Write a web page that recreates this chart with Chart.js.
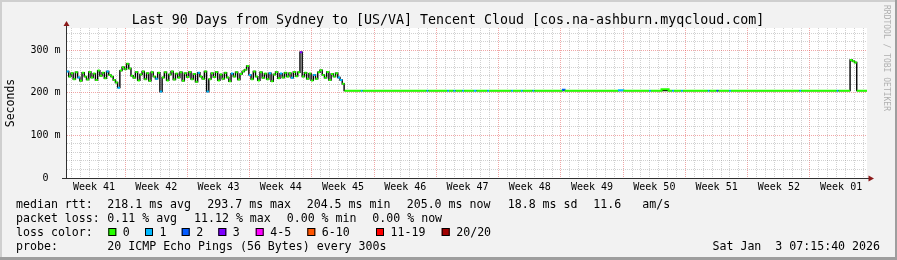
<!DOCTYPE html>
<html>
<head>
<meta charset="utf-8">
<script src="https://cdn.jsdelivr.net/npm/chart.js@4.4.1/dist/chart.umd.min.js"></script>
<style>
  html, body { margin: 0; padding: 0; background: #f2f2f2; }
  #wrap { position: relative; width: 897px; height: 260px; }
</style>
</head>
<body>
<div id="wrap"><canvas id="chart" width="897" height="260"></canvas></div>
<script>
// x values are days since the start of the 90 day window
const weekLabels = ['Week 41', 'Week 42', 'Week 43', 'Week 44', 'Week 45', 'Week 46', 'Week 47',
  'Week 48', 'Week 49', 'Week 50', 'Week 51', 'Week 52', 'Week 01'];
const firstDayLine = 0.59;   // first midnight after the window start
const firstWeekLine = 6;     // index of first day line that starts a week

const yTicks = [0, 20, 40, 60, 80, 100, 120, 140, 160, 180, 200, 220, 240, 260, 280, 300, 320, 340];
const yLabels = { 0: '0  ', 100: '100 m', 200: '200 m', 300: '300 m' };

// median rtt (ms), one sample every 6 hours for the first month
const sampleStep = 0.25;
const noisyRtt = [
  250, 238, 246, 232, 248, 236, 228, 247, 238, 231,
  249, 236, 245, 230, 252, 240, 247, 234, 250, 242,
  238, 230, 224, 212, 252, 260, 255, 268, 257, 240,
  235, 249, 229, 243, 250, 232, 246, 228, 248, 238,
  233, 247, 203, 236, 248, 229, 243, 250, 231, 245,
  236, 248, 228, 246, 237, 249, 232, 244, 226, 247,
  238, 233, 250, 203, 232, 246, 237, 249, 229, 243,
  233, 247, 236, 227, 245, 238, 248, 231, 244, 250,
  254, 263, 242, 232, 250, 238, 229, 248, 235, 245,
  232, 246, 227, 243, 249, 234, 245, 236, 247, 238,
  246, 235, 249, 239, 248, 295, 238, 247, 233, 245,
  229, 242, 233, 248, 253, 242, 235, 249, 230, 244,
  238, 246, 236, 230, 221
];
// samples with lost pings (index -> lost count), all others 0
const noisyLossAt = { 0: 1, 5: 1, 18: 1, 23: 1, 40: 1, 42: 1, 59: 1, 63: 1, 74: 1, 82: 1,
  91: 1, 96: 1, 101: 1, 105: 3, 111: 1, 122: 1, 123: 1 };

// flat part after the route change
const flatDays = [31.25, 33.1, 33.3, 40.5, 40.7, 42.8, 43.0, 43.5, 43.75, 44.5, 44.7, 45.8, 46.1,
  47.3, 47.5, 50.0, 50.2, 51.1, 51.3, 52.4, 52.6, 55.7, 56.0, 62.0, 62.6, 65.5, 65.7, 66.9, 67.7,
  68.1, 68.3, 69.1, 69.3, 72.1, 72.3, 73.1, 73.3, 74.5, 74.7, 82.4, 82.6, 86.6, 86.8, 88.1, 88.1,
  88.85, 90];
const flatRtt = [205, 205, 205, 205, 205, 205, 205, 205, 205, 205, 205, 205, 205,
  205, 205, 205, 205, 205, 205, 205, 205, 207, 205, 206, 205, 205, 205, 208, 205,
  205, 205, 205, 205, 205, 205, 205, 205, 205, 205, 205, 205, 205, 205, 205, null,
  205, 205];
const flatLoss = [0, 1, 0, 1, 0, 1, 0, 1, 0, 1, 0, 1, 0,
  1, 0, 1, 0, 1, 0, 1, 0, 2, 0, 1, 0, 1, 0, 0, 0,
  1, 0, 1, 0, 1, 0, 2, 0, 1, 0, 1, 0, 1, 0, 0, 0,
  0, 0];

const spikeDays = [88.22, 88.47, 88.72];
const spikeRtt = [277, 274, 271];

const lossColors = ['#26ff00', '#00b8ff', '#0059ff', '#7e00ff', '#ff00ff', '#ff5500', '#ff0000', '#a10000'];
const lossNames = ['0', '1', '2', '3', '4-5', '6-10', '11-19', '20/20'];

const MONO = '"DejaVu Sans Mono", monospace';

// build points
const noisyPts = noisyRtt.map((v, i) => ({ x: i * sampleStep + sampleStep / 2, y: v, loss: noisyLossAt[i] || 0 }));
const spikePts = spikeDays.map((d, i) => ({ x: d, y: spikeRtt[i], loss: 0 }));
const dashPts = noisyPts.concat(spikePts);
const flatPts = flatDays.map((d, i) => ({ x: d, y: flatRtt[i], loss: flatLoss[i] }));
const blackPts = noisyPts.concat([{ x: 31.3, y: 205 }, { x: 87.975, y: 205 }], spikePts,
  [{ x: 88.975, y: 205 }, { x: 90, y: 205 }]);

const xTicks = [];
for (let d = firstDayLine - 0.5; d <= 90; d += 0.5) xTicks.push(d);

function xTickInfo(i) {
  if (i % 2 === 1) {
    const n = (i - 1) / 2;
    return { line: true, major: (n - firstWeekLine) % 7 === 0 && n >= firstWeekLine };
  }
  const h = i / 2;
  if ((h - 3) % 7 === 0) return { label: weekLabels[(h - 3) / 7] };
  return {};
}

const frame = {
  id: 'frame',
  beforeDraw(chart) {
    const { ctx, chartArea: a } = chart;
    ctx.save();
    ctx.fillStyle = '#f2f2f2';
    ctx.fillRect(0, 0, 897, 260);
    ctx.fillStyle = '#cfcfcf';
    ctx.fillRect(0, 0, 897, 2);
    ctx.fillRect(0, 0, 2, 260);
    ctx.fillStyle = '#9e9e9e';
    ctx.fillRect(895, 0, 2, 260);
    ctx.fillRect(0, 257, 897, 3);
    ctx.fillStyle = '#ffffff';
    ctx.fillRect(a.left, a.top, a.right - a.left, a.bottom - a.top);
    ctx.restore();
  },
  afterDraw(chart) {
    const { ctx, chartArea: a } = chart;
    ctx.save();
    // axis extensions and arrows
    ctx.strokeStyle = '#303030';
    ctx.lineWidth = 1;
    ctx.beginPath();
    ctx.moveTo(66.5, a.top + 1); ctx.lineTo(66.5, 24);
    ctx.moveTo(62, 178.5); ctx.lineTo(869, 178.5);
    ctx.stroke();
    ctx.fillStyle = '#8b1a1a';
    ctx.beginPath();
    ctx.moveTo(66.5, 21); ctx.lineTo(63.5, 26); ctx.lineTo(69.5, 26); ctx.closePath();
    ctx.fill();
    ctx.beginPath();
    ctx.moveTo(874, 178.5); ctx.lineTo(868.5, 175.5); ctx.lineTo(868.5, 181.5); ctx.closePath();
    ctx.fill();

    // title
    ctx.fillStyle = '#000';
    ctx.textBaseline = 'alphabetic';
    ctx.textAlign = 'center';
    ctx.font = '13.3px ' + MONO;
    ctx.fillText('Last 90 Days from Sydney to [US/VA] Tencent Cloud [cos.na-ashburn.myqcloud.com]', 448, 23.5);

    // legend
    ctx.textAlign = 'left';
    ctx.font = '11.6px ' + MONO;
    const rows = [
      [[16, 'median rtt:'], [107.3, '218.1 ms avg'], [207.3, '293.7 ms max'], [306.7, '204.5 ms min'],
        [406.7, '205.0 ms now'], [507.7, '18.8 ms sd'], [593.3, '11.6'], [642.3, 'am/s']],
      [[16, 'packet loss:'], [107.3, '0.11 % avg'], [194, '11.12 % max'], [286.7, '0.00 % min'],
        [372.3, '0.00 % now']],
      [[16, 'loss color:']],
      [[16, 'probe:'], [107.3, '20 ICMP Echo Pings (56 Bytes) every 300s']]
    ];
    const base = [207.5, 221.7, 236, 250];
    rows.forEach((r, k) => r.forEach(([x, t]) => ctx.fillText(t, x, base[k])));
    const boxX = [108.3, 145, 181.7, 218.3, 255.7, 307.3, 376, 441.7];
    lossNames.forEach((name, i) => {
      ctx.fillStyle = lossColors[i];
      ctx.fillRect(boxX[i], 228, 8, 8);
      ctx.strokeStyle = '#000';
      ctx.strokeRect(boxX[i] + 0.5, 228.5, 7, 7);
      ctx.fillStyle = '#000';
      ctx.fillText(name, boxX[i] + 14.5, base[2]);
    });
    ctx.textAlign = 'right';
    ctx.fillText('Sat Jan  3 07:15:40 2026', 880, base[3]);

    // watermark
    ctx.translate(886, 5);
    ctx.rotate(Math.PI / 2);
    ctx.textAlign = 'left';
    ctx.textBaseline = 'middle';
    ctx.font = '8px ' + MONO;
    ctx.fillStyle = '#b0b0b0';
    ctx.fillText('RRDTOOL / TOBI OETIKER', 0, 0);
    ctx.restore();
  }
};

new Chart(document.getElementById('chart'), {
  type: 'line',
  data: {
    datasets: [
      {
        data: dashPts,
        showLine: false,
        pointStyle: 'line',
        pointRadius: 1.2,
        pointBorderWidth: 2,
        pointBorderColor: dashPts.map(p => lossColors[p.loss]),
        order: 1
      },
      {
        data: flatPts,
        stepped: true,
        borderWidth: 2,
        pointRadius: 0,
        spanGaps: false,
        segment: { borderColor: c => lossColors[flatPts[c.p0DataIndex].loss] },
        borderColor: lossColors[0],
        order: 2
      },
      {
        data: blackPts,
        stepped: 'middle',
        borderWidth: 1.4,
        borderColor: '#000',
        pointRadius: 0,
        order: 3
      }
    ]
  },
  options: {
    responsive: false,
    animation: false,
    events: [],
    layout: { padding: { top: 28, right: 30, bottom: 0, left: 0 } },
    plugins: { legend: { display: false }, tooltip: { enabled: false }, title: { display: false } },
    scales: {
      x: {
        type: 'linear',
        min: 0,
        max: 90,
        afterBuildTicks: s => { s.ticks = xTicks.map(v => ({ value: v })); },
        afterFit: s => { s.height = 82; },
        ticks: {
          autoSkip: false,
          maxRotation: 0,
          minRotation: 0,
          padding: 3,
          color: '#000',
          font: { family: MONO, size: 10 },
          callback: (v, i) => xTickInfo(i).label || ''
        },
        grid: {
          drawTicks: false,
          color: c => {
            const t = xTickInfo(c.index);
            if (!t.line) return 'rgba(0,0,0,0)';
            return t.major ? 'rgba(225,60,60,0.45)' : 'rgba(140,140,140,0.4)';
          }
        },
        border: { color: '#303030', width: 1, dash: [1, 1] }
      },
      y: {
        type: 'linear',
        min: 0,
        max: 352,
        afterBuildTicks: s => { s.ticks = yTicks.map(v => ({ value: v })); },
        afterFit: s => { s.width = 66.5; },
        ticks: {
          autoSkip: false,
          padding: 6,
          color: '#000',
          font: { family: MONO, size: 10 },
          callback: v => yLabels[v] || ''
        },
        grid: {
          drawTicks: false,
          color: c => {
            const v = c.tick.value;
            if (v === 0) return 'rgba(0,0,0,0)';
            return v % 100 === 0 ? 'rgba(225,60,60,0.45)' : 'rgba(140,140,140,0.4)';
          }
        },
        border: { color: '#303030', width: 1, dash: [1, 1] },
        title: {
          display: true,
          text: 'Seconds',
          color: '#000',
          font: { family: MONO, size: 11.5 },
          padding: { top: 4, bottom: 0 }
        }
      }
    }
  },
  plugins: [frame]
});
</script>
</body>
</html>
